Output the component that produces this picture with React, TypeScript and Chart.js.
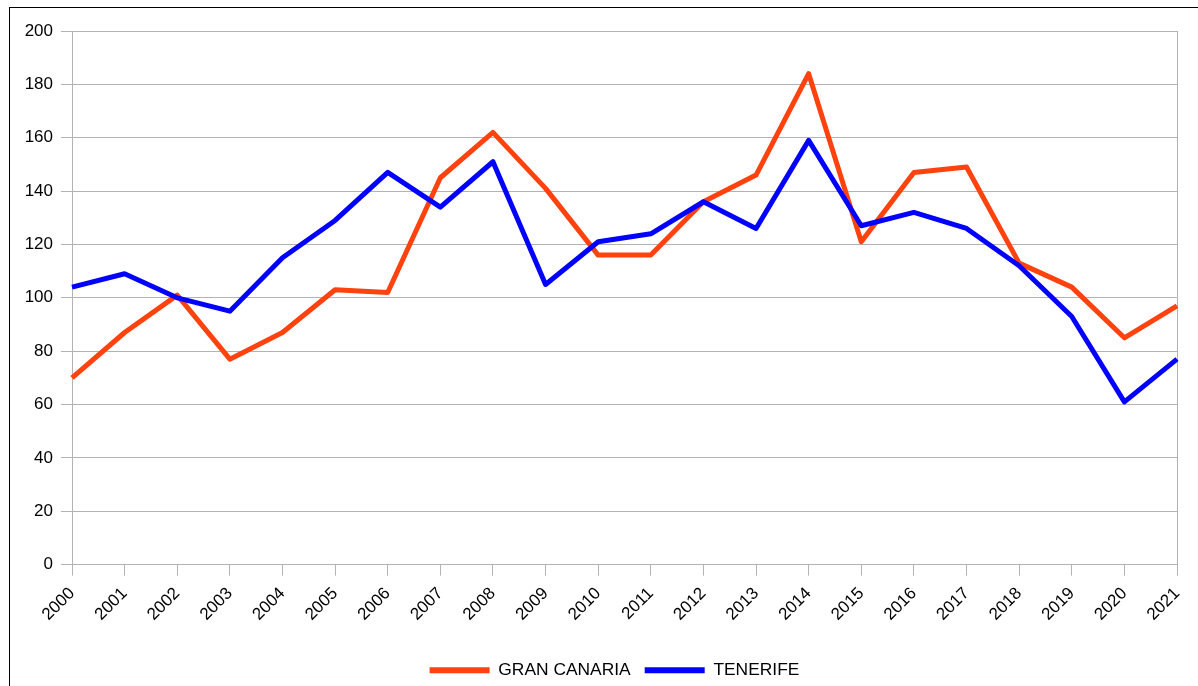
import React, { useEffect, useRef } from "react";
import { Chart, registerables } from "chart.js";

Chart.register(...registerables);

const years = ["2000","2001","2002","2003","2004","2005","2006","2007","2008","2009","2010","2011","2012","2013","2014","2015","2016","2017","2018","2019","2020","2021"];
const granCanaria = [70, 87, 101, 77, 87, 103, 102, 145, 162, 141, 116, 116, 136, 146, 184, 121, 147, 149, 113, 104, 85, 97];
const tenerife = [104, 109, 100, 95, 115, 129, 147, 134, 151, 105, 121, 124, 136, 126, 159, 127, 132, 126, 112, 93, 61, 77];
const yTicks = [0, 20, 40, 60, 80, 100, 120, 140, 160, 180, 200];

const FONT = "'Liberation Sans', Arial, sans-serif";
const GRID = "#b3b3b3";

const legendShift = {
  id: "legendShift",
  afterLayout(chart: any) {
    const lg = chart.legend;
    if (lg) {
      lg.left += 26;
      lg.right += 26;
    }
  },
};

export default function App() {
  const ref = useRef<HTMLCanvasElement | null>(null);
  useEffect(() => {
    const canvas = ref.current!;
    const chart = new Chart(canvas, {
      type: "line",
      plugins: [legendShift],
      data: {
        labels: years,
        datasets: [
          {
            label: "GRAN CANARIA",
            data: granCanaria,
            borderColor: "#ff420e",
            backgroundColor: "#ff420e",
            borderWidth: 5,
            pointRadius: 0,
            tension: 0,
            borderJoinStyle: "round",
            order: 1,
          },
          {
            label: "TENERIFE",
            data: tenerife,
            borderColor: "#0000ff",
            backgroundColor: "#0000ff",
            borderWidth: 5,
            pointRadius: 0,
            tension: 0,
            borderJoinStyle: "round",
            order: 0,
          },
        ],
      },
      options: {
        animation: false,
        responsive: false,
        maintainAspectRatio: false,
        devicePixelRatio: 1,
        layout: { padding: { top: 31, right: 21, left: 0, bottom: -3 } },
        plugins: {
          tooltip: { enabled: false },
          legend: {
            position: "bottom",
            labels: {
              font: { family: FONT, size: 17.4 },
              color: "#000",
              boxWidth: 60,
              boxHeight: 6,
              padding: 14,
              generateLabels: (c: any) =>
                c.data.datasets.map((d: any, i: number) => ({
                  text: d.label,
                  fillStyle: d.borderColor,
                  strokeStyle: d.borderColor,
                  lineWidth: 0,
                  hidden: false,
                  datasetIndex: i,
                  fontColor: "#000",
                })),
            },
          },
        },
        scales: {
          x: {
            type: "category",
            offset: false,
            grid: {
              display: true,
              drawOnChartArea: true,
              color: (ctx: any) => (ctx.index === years.length - 1 ? GRID : "rgba(0,0,0,0)"),
              tickColor: GRID,
              tickLength: 11,
              lineWidth: 1,
            },
            border: { display: true, color: GRID, width: 1 },
            ticks: {
              font: { family: FONT, size: 17 },
              color: "#000",
              minRotation: 45,
              maxRotation: 45,
              autoSkip: false,
              padding: 8,
            },
            afterFit: (scale: any) => {
              scale.height = 83;
              scale.paddingLeft = 0;
              scale.paddingRight = 0;
            },
          },
          y: {
            min: 0,
            max: 200,
            afterBuildTicks: (scale: any) => {
              scale.ticks = yTicks.map((v) => ({ value: v }));
            },
            grid: {
              color: GRID,
              tickColor: GRID,
              tickLength: 11,
              lineWidth: 1,
            },
            border: { display: true, color: GRID, width: 1 },
            ticks: {
              font: { family: FONT, size: 17 },
              color: "#000",
              padding: 8,
            },
            afterFit: (scale: any) => {
              scale.width = 72;
            },
          },
        },
      },
    });
    return () => chart.destroy();
  }, []);

  return (
    <>
      <div
        style={{
          position: "fixed",
          left: 9,
          top: 7,
          width: 1300,
          height: 800,
          borderTop: "1px solid #000",
          borderLeft: "1px solid #000",
          boxSizing: "border-box",
          pointerEvents: "none",
        }}
      />
      <canvas
        ref={ref}
        width={1198}
        height={686}
        style={{ position: "fixed", left: 0, top: 0, width: 1198, height: 686 }}
      />
    </>
  );
}
